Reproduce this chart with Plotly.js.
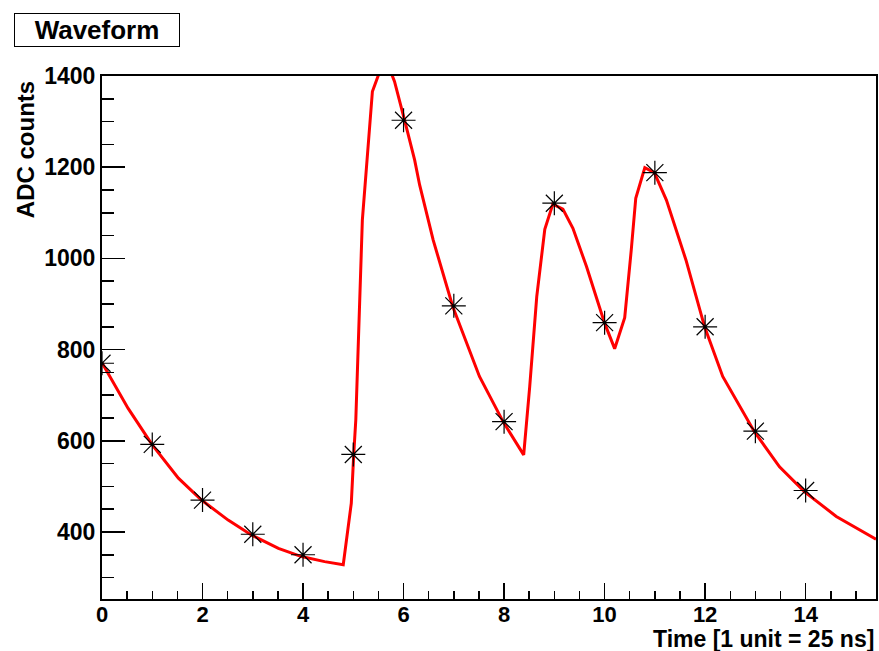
<!DOCTYPE html>
<html>
<head>
<meta charset="utf-8">
<script src="https://cdn.plot.ly/plotly-3.0.1.min.js"></script>
<style>html,body{margin:0;padding:0;background:#fff;}#chart{width:879px;height:651px;}</style>
</head>
<body>
<div id="chart"></div>
<script>
// Sampled waveform points (Time units, ADC counts)
const sampleTime = [0, 1, 2, 3, 4, 5, 6, 7, 8, 9, 10, 11, 12, 13, 14];
const sampleADC  = [770, 592, 470, 395, 350, 570, 1303, 896, 642, 1121, 859, 1188, 850, 621, 491];

// Fitted curve (red)
const fitTime = [0, 0.32, 0.52, 1.0, 1.52, 1.98, 2.51, 2.98, 3.51, 3.97, 4.43, 4.80,
  4.96, 5.01, 5.05, 5.18, 5.38, 5.51, 5.63, 5.76, 5.82, 6.02, 6.22, 6.32, 6.59, 6.98,
  7.18, 7.51, 7.98, 8.39, 8.51, 8.65, 8.81, 8.97, 9.17, 9.37, 9.64, 10.0, 10.2,
  10.40, 10.53, 10.62, 10.80, 10.99, 11.23, 11.62, 11.99, 12.35, 12.98, 13.48,
  13.98, 14.61, 15.4];
const fitADC = [771, 711, 671, 591, 518, 470, 426, 393, 364, 346, 335, 328,
  463, 573, 646, 1084, 1366, 1405, 1425, 1405, 1388, 1303, 1216, 1161, 1040, 894,
  836, 741, 642, 569, 719, 916, 1064, 1119, 1108, 1066, 982, 858, 802,
  870, 1018, 1132, 1199, 1188, 1128, 996, 850, 741, 620, 543,
  488, 434, 384];

const chartTitle = "Waveform";
const xTitle = "Time [1 unit = 25 ns]";
const yTitle = "ADC counts";

const FONT = "Liberation Sans, Arial, Helvetica, sans-serif";

const traces = [
  {
    x: fitTime, y: fitADC, type: "scatter", mode: "lines",
    line: {color: "#ff0000", width: 3}, hoverinfo: "skip", showlegend: false
  },
  {
    x: sampleTime, y: sampleADC, type: "scatter", mode: "markers",
    marker: {symbol: "asterisk-open", size: 20, color: "#000", line: {color: "#000", width: 1.2}},
    showlegend: false
  }
];

const layout = {
  width: 879, height: 651,
  margin: {l: 102, r: 3, t: 76, b: 52, pad: 0},
  paper_bgcolor: "#fff", plot_bgcolor: "#fff",
  showlegend: false,
  xaxis: {
    range: [0, 15.4], showgrid: false, zeroline: false,
    showline: true, linecolor: "#000", linewidth: 2, mirror: true,
    ticks: "inside", ticklen: 16, tickwidth: 1.5, tickcolor: "#000",
    tick0: 0, dtick: 2, ticklabelstandoff: -5,
    minor: {dtick: 0.5, ticks: "inside", ticklen: 8, tickwidth: 1.5, tickcolor: "#000"},
    tickfont: {family: FONT, size: 22, color: "#000", weight: "bold"}
  },
  yaxis: {
    range: [253, 1400], showgrid: false, zeroline: false,
    showline: true, linecolor: "#000", linewidth: 2, mirror: true,
    ticks: "inside", ticklen: 23, tickwidth: 1.5, tickcolor: "#000",
    tick0: 0, dtick: 200,
    minor: {dtick: 50, ticks: "inside", ticklen: 12, tickwidth: 1.5, tickcolor: "#000"},
    tickfont: {family: FONT, size: 23, color: "#000", weight: "bold"}
  },
  annotations: [
    {
      text: "<b>" + chartTitle + "</b>", xref: "paper", yref: "paper",
      x: -0.0065, y: 1.088, xanchor: "center", yanchor: "middle",
      showarrow: false, font: {family: FONT, size: 26, color: "#000"},
      bordercolor: "#000", borderwidth: 1, bgcolor: "#fff", width: 162, height: 30
    },
    {
      text: "<b>" + xTitle + "</b>", xref: "paper", yref: "paper",
      x: 1.0, y: -0.0774, xanchor: "right", yanchor: "middle",
      showarrow: false, font: {family: FONT, size: 23, color: "#000"}
    },
    {
      text: "<b>" + yTitle + "</b>", xref: "paper", yref: "paper",
      x: -0.0995, y: 0.860, xanchor: "center", yanchor: "middle", textangle: -90,
      showarrow: false, font: {family: FONT, size: 24, color: "#000"}
    }
  ]
};

Plotly.newPlot("chart", traces, layout, {displayModeBar: false, staticPlot: true});
</script>
</body>
</html>
